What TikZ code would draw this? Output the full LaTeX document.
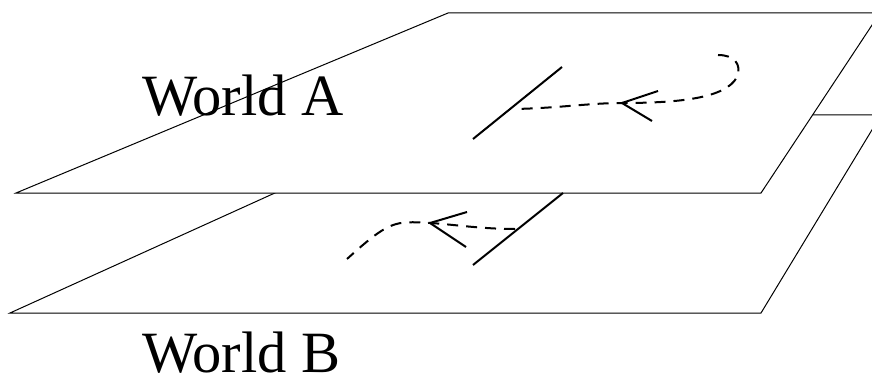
\documentclass[tikz,border=0pt]{standalone}
\usepackage{fontspec}
\setmainfont{Liberation Serif}
\begin{document}
\begin{tikzpicture}[x=1pt,y=-1pt,
  plane/.style={draw=black,line width=1pt,fill=white,line join=miter},
  barrier/.style={draw=black,line width=2pt},
  path/.style={draw=black,line width=2pt,dash pattern=on 11pt off 8pt},
  headarm/.style={draw=black,line width=2pt},
  label/.style={anchor=base west,inner sep=0pt,font=\fontsize{58.5}{62}\selectfont}]
\useasboundingbox (0,0) rectangle (872,385);
\fill[white] (0,0) rectangle (872,385);
% World B plane
\coordinate (b1) at (10,313);
\coordinate (b2) at (447,115);
\coordinate (b3) at (881,115);
\coordinate (b4) at (761,313);
\path[plane] (b1) -- (b2) -- (b3) -- (b4) -- cycle;
% World A plane
\coordinate (a1) at (16,193);
\coordinate (a2) at (448,13);
\coordinate (a3) at (880,13);
\coordinate (a4) at (761,193);
\path[plane] (a1) -- (a2) -- (a3) -- (a4) -- cycle;
% labels
\node[label] (wa) at (142,116) {World A};
\node[label] (wb) at (142,372) {World B};
% top barrier and path
\coordinate (ta) at (473,139);
\coordinate (tb) at (562,67);
\draw[barrier] (ta) -- (tb);
\coordinate (ts) at (718,55);
\coordinate (tt) at (622,103);
\coordinate (te) at (515,109);
\draw[path] (ts) .. controls (734,55) and (742,64) .. (737,77)
  .. controls (726,98) and (680,103) .. (tt)
  .. controls (590,103) and (560,108) .. (te);
\coordinate (th1) at (658,91);
\coordinate (th2) at (652,121);
\draw[headarm] (th1) -- (tt) -- (th2);
% bottom barrier and path
\coordinate (ba) at (473,265);
\coordinate (bb) at (563,193);
\draw[barrier] (ba) -- (bb);
\coordinate (bs) at (515,229);
\coordinate (bt) at (430,223);
\coordinate (be) at (347,259);
\draw[path] (bs) .. controls (480,229) and (450,224) .. (bt)
  .. controls (395,221) and (390,220) .. (be);
\coordinate (bh1) at (467,212);
\coordinate (bh2) at (466,247);
\draw[headarm] (bh1) -- (bt) -- (bh2);
\end{tikzpicture}
\end{document}
